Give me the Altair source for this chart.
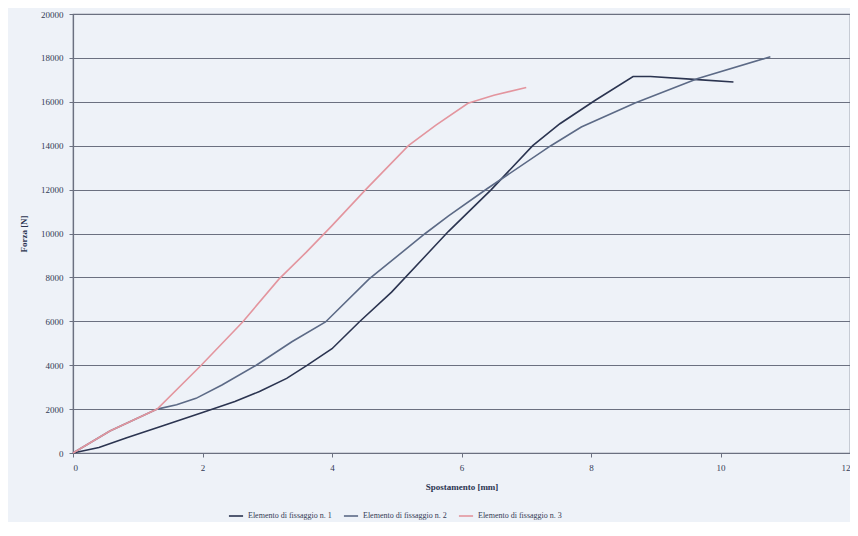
import altair as alt
import pandas as pd

s1_x = [0, 0.4, 0.83, 1.4, 2.0, 2.5, 2.88, 3.3, 3.62, 4.0, 4.42, 4.92, 5.45, 5.8, 6.46, 7.1, 7.52, 8.06, 8.65, 8.92, 9.65, 10.2]
s1_y = [0, 250, 700, 1250, 1850, 2350, 2800, 3400, 4000, 4750, 5970, 7330, 9000, 10100, 12000, 14000, 15000, 16060, 17150, 17150, 17010, 16900]

s2_x = [0, 0.57, 1.3, 1.6, 1.9, 2.3, 2.83, 3.38, 3.9, 4.57, 5.08, 5.44, 5.8, 6.4, 7.38, 7.85, 8.68, 9.65, 10.77]
s2_y = [0, 1000, 2000, 2200, 2490, 3100, 4000, 5070, 5970, 7920, 9140, 10000, 10800, 12050, 14000, 14850, 15950, 17060, 18050]

s3_x = [0, 0.57, 1.3, 1.98, 2.62, 3.18, 3.6, 4.0, 4.52, 5.18, 5.6, 6.1, 6.5, 7.0]
s3_y = [0, 1000, 2000, 4000, 5970, 7920, 9140, 10360, 12000, 14000, 14930, 15930, 16300, 16650]

names = ["Elemento di fissaggio n. 1", "Elemento di fissaggio n. 2", "Elemento di fissaggio n. 3"]
colors = ["#2b3450", "#5c6a86", "#e3959e"]

rows = []
for name, xs, ys in zip(names, [s1_x, s2_x, s3_x], [s1_y, s2_y, s3_y]):
    for i, (x, y) in enumerate(zip(xs, ys)):
        rows.append({"serie": name, "x": x, "y": y, "o": i})
df = pd.DataFrame(rows)

FONT = "Liberation Serif"

chart = alt.Chart(df).mark_line(strokeWidth=1.6).encode(
    x=alt.X("x:Q", scale=alt.Scale(domain=[0, 12], nice=False),
            axis=alt.Axis(title="Spostamento [mm]", values=[0, 2, 4, 6, 8, 10, 12], format="d",
                          grid=False, tickSize=4, labelPadding=6, titlePadding=10)),
    y=alt.Y("y:Q", scale=alt.Scale(domain=[0, 20000], nice=False),
            axis=alt.Axis(title="Forza [N]", values=list(range(0, 20001, 2000)), format="d",
                          grid=True, tickSize=4, labelPadding=6, titlePadding=12)),
    color=alt.Color("serie:N", scale=alt.Scale(domain=names, range=colors),
                    legend=alt.Legend(title=None, orient="none", direction="horizontal",
                                      legendX=155, legendY=494, symbolType="stroke",
                                      symbolSize=200, symbolStrokeWidth=1.6,
                                      labelFont=FONT, labelFontSize=8, labelColor="#333a55",
                                      columnPadding=8)),
    order="o:Q",
).properties(
    width=777, height=439,
    background="#eef2f8",
    autosize=alt.AutoSizeParams(type="none"),
    padding={"left": 65, "top": 6, "right": 0, "bottom": 69},
).configure_view(
    stroke="#6b7080", strokeWidth=1.2, fill="#eef2f8"
).configure_axis(
    labelFont=FONT, titleFont=FONT, labelFontSize=9, titleFontSize=9,
    labelColor="#333a55", titleColor="#2b3450", titleFontWeight="bold",
    domainColor="#6b7080", tickColor="#6b7080", gridColor="#6b7080",
    gridWidth=1.2, domainWidth=1.2, gridOpacity=1,
)

chart.save("out.html", embed_options={"renderer": "svg", "actions": False})
